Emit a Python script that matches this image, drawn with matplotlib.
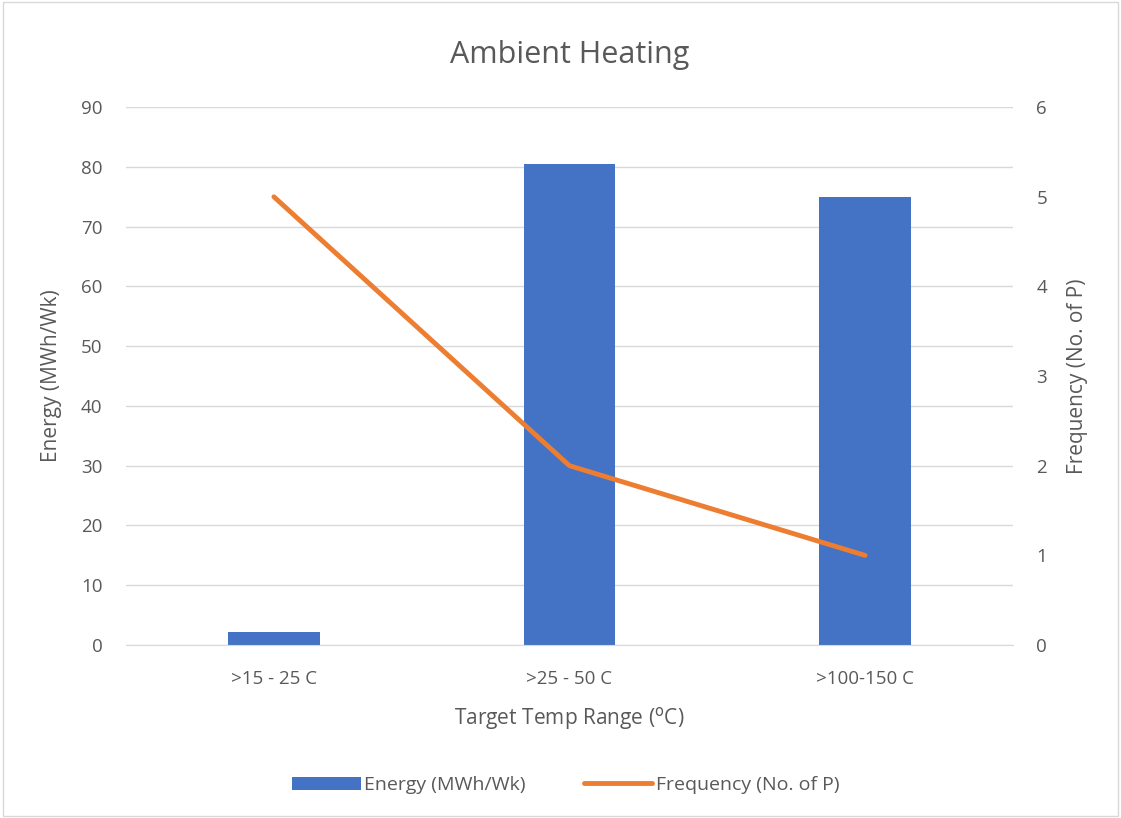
import numpy as np
import matplotlib.pyplot as plt

categories = [">15 - 25 C", ">25 - 50 C", ">100-150 C"]
energy = [2.2, 80.5, 75.0]
frequency = [5, 2, 1]

plt.rcParams['font.family'] = ['Open Sans', 'DejaVu Sans']

fig = plt.figure(figsize=(11.21, 8.18), dpi=100)
ax = fig.add_axes([0.1125, 0.2115, 0.791, 0.6575])
ax2 = ax.twinx()

x = np.arange(len(categories))
ax.bar(x, energy, width=0.31, color="#4472C4", label="Energy (MWh/Wk)", zorder=2)
ax2.plot(x, frequency, color="#ED7D31", linewidth=3.5, solid_capstyle="round",
         label="Frequency (No. of P)", zorder=3)

ax.set_xlim(-0.5, 2.5)
ax.set_ylim(0, 90)
ax.set_yticks(range(0, 91, 10))
ax2.set_ylim(0, 6)
ax2.set_yticks(range(0, 7))
ax.set_xticks(x)
ax.set_xticklabels(categories)

ax.grid(axis="y", color="#D9D9D9", linewidth=1, zorder=0)
ax.set_axisbelow(True)
for a in (ax, ax2):
    for s in a.spines.values():
        s.set_visible(False)
    a.tick_params(length=0, labelsize=13.5, colors="#595959", pad=17)
ax.spines["bottom"].set_visible(True)
ax.spines["bottom"].set_color("#D9D9D9")
ax.tick_params(axis="x", pad=18)

ax.set_xlabel("Target Temp Range ($^{\\mathrm{o}}$C)", fontsize=15, color="#595959", labelpad=12)
ax.set_ylabel("Energy (MWh/Wk)", fontsize=15, color="#595959", labelpad=14)
ax2.set_ylabel("Frequency (No. of P)", fontsize=15, color="#595959", labelpad=14)
ax.set_title("Ambient Heating", fontsize=22, color="#595959", pad=32)

h1, l1 = ax.get_legend_handles_labels()
h2, l2 = ax2.get_legend_handles_labels()
fig.legend(h1 + h2, l1 + l2, loc="center", bbox_to_anchor=(0.505, 0.04), ncol=2,
           frameon=False, fontsize=14, labelcolor="#595959", handlelength=3.5,
           handletextpad=0.2, columnspacing=3)

fig.patches.append(plt.Rectangle((0.003, 0.003), 0.994, 0.994, transform=fig.transFigure,
                                 fill=False, edgecolor="#D9D9D9", linewidth=1))

fig.savefig("out.png", dpi=100)
